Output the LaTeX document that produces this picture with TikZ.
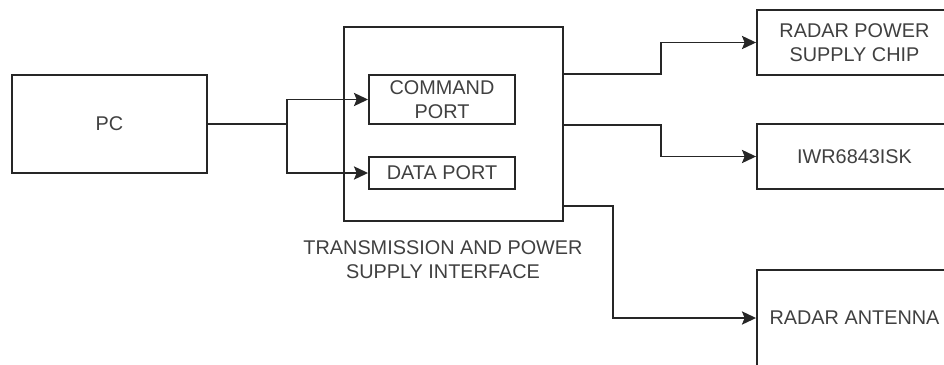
\documentclass[tikz,border=0pt]{standalone}
\usepackage{fontspec}
\setmainfont{Liberation Sans}
\usetikzlibrary{arrows.meta}

\begin{document}
\begin{tikzpicture}[x=0.02cm, y=-0.02cm,
	blk/.style={draw=black!85, line width=1.1pt, text=black!75, align=center,
		inner sep=0pt, font=\fontsize{11.3}{13.6}\selectfont},
	arr/.style={draw=black!85, line width=1.1pt, -{Stealth[length=8pt, width=7.5pt, inset=1.5pt]}},
	wire/.style={draw=black!85, line width=1.1pt}]
	\useasboundingbox (0,0) rectangle (944,365);
	% left side
	\node[blk, minimum width=3.9cm, minimum height=1.96cm] (pc) at (109.5,124) {PC};
	\node[blk, minimum width=4.38cm, minimum height=3.88cm] (tpsi) at (453.5,124) {};
	\node[blk, minimum width=2.92cm, minimum height=0.98cm] (cmd) at (442,99.5) {COMMAND\\PORT};
	\node[blk, minimum width=2.92cm, minimum height=0.64cm] (data) at (442,173) {DATA PORT};
	\node[text=black!75, align=center, font=\fontsize{11.3}{13.6}\selectfont] (tpsilbl) at (443,260)
		{TRANSMISSION AND POWER\\SUPPLY INTERFACE};
	% right side
	\node[blk, minimum width=3.9cm, minimum height=1.3cm] (chip) at (854.5,42.5) {RADAR POWER\\SUPPLY CHIP};
	\node[blk, minimum width=3.9cm, minimum height=1.3cm] (iwr) at (854.5,156.5) {IWR6843ISK};
	\node[blk, minimum width=3.9cm, minimum height=1.92cm] (ant) at (854.5,318) {RADAR ANTENNA};
	% connectors
	\coordinate (split) at (287,124);
	\draw[wire] (pc.east) -- (split);
	\draw[arr] (split) |- (cmd.west);
	\draw[arr] (split) |- (data.west);
	\draw[arr] (tpsi.east |- cmd.north) -- ++(97,0) |- (chip.west);
	\draw[arr] (tpsi.east |- cmd.south) -- ++(97,0) |- (iwr.west);
	\draw[arr] (tpsi.south east) ++(0,-16) -- ++(49,0) |- (ant.west);
\end{tikzpicture}
\end{document}
